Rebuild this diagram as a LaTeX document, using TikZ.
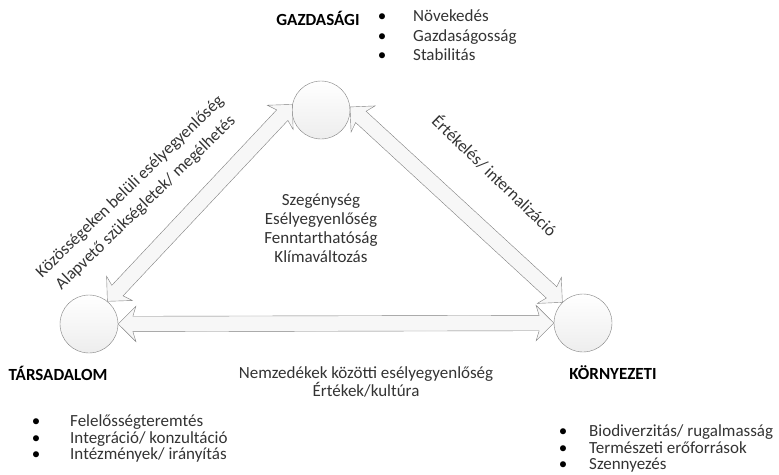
\documentclass[tikz,border=0pt]{standalone}
\usepackage{fontspec}
\setmainfont{Carlito}
\usetikzlibrary{calc,shapes.arrows}
\tikzset{
  hub/.style={circle, draw=black!50, minimum size=58pt, inner sep=0pt,
    top color=white, bottom color=black!7},
  link/.style={double arrow, draw=black!50, fill=black!3, inner xsep=0pt,
    inner ysep=7.5pt, double arrow head extend=10pt, double arrow head indent=3pt},
  head/.style={font=\fontsize{17}{19}\selectfont\bfseries, inner sep=0pt},
  item/.style={anchor=west, inner sep=0pt, text height=11pt, text depth=3.5pt, text=black!80},
  dot/.style={inner sep=0pt, text height=11pt, text depth=3.5pt},
  lbl/.style={align=center, inner sep=0pt, text=black!80}
}
\newcommand{\linkarrow}[3]{%
  \path let \p1=($(#2)-(#1)$), \n1={veclen(\x1,\y1)}, \n2={atan2(\y1,\x1)} in
    node[link, minimum height=\n1, rotate=\n2] (#3) at ($(#1)!0.5!(#2)$) {};
}

\begin{document}
\begin{tikzpicture}[x=1pt, y=-1pt, font=\fontsize{17}{19}\selectfont]
  \useasboundingbox (0,0) rectangle (779,474);

  % pillars
  \node[hub] (gaz) at (321,110) {};
  \node[hub] (tar) at (89,324) {};
  \node[hub] (kor) at (583,323) {};

  % links between pillars
  \linkarrow{tar.51}{gaz.169}{tg}
  \linkarrow{gaz.6}{kor.135}{gk}
  \linkarrow{tar.0}{kor.180}{tk}

  % headings
  \node[head] (gazh) at (318,18) {GAZDASÁGI};
  \node[head] (tarh) at (58,373) {TÁRSADALOM};
  \node[head] (korh) at (613,373) {KÖRNYEZETI};

  % bullet lists
  \foreach \txt [count=\i] in {Növekedés, Gazdaságosság, Stabilitás}{
    \node[dot] (gd\i) at (382,{18+19.5*(\i-1)}) {•};
    \node[item] (gi\i) at (413,{18+19.5*(\i-1)}) {\txt};
  }
  \foreach \txt [count=\i] in {Felelősségteremtés, Integráció/ konzultáció, Intézmények/ irányítás}{
    \node[dot] (td\i) at (36,{423+16.5*(\i-1)}) {•};
    \node[item] (ti\i) at (70,{423+16.5*(\i-1)}) {\txt};
  }
  \foreach \txt [count=\i] in {Biodiverzitás/ rugalmasság, Természeti erőforrások, Szennyezés}{
    \node[dot] (kd\i) at (563,{433+16.5*(\i-1)}) {•};
    \node[item] (ki\i) at (589,{433+16.5*(\i-1)}) {\txt};
  }

  % labels
  \node[lbl] (core) at (321,228) {Szegénység\\Esélyegyenlőség\\Fenntarthatóság\\Klímaváltozás};
  \node[lbl, rotate=44, font=\fontsize{17}{22.5}\selectfont] (tgl) at (138,195)
    {Közösségeken belüli esélyegyenlőség\\Alapvető szükségletek/ megélhetés};
  \node[lbl, rotate=-44] (gkl) at (495,175) {Értékelés/ internalizáció};
  \node[lbl, font=\fontsize{17}{17}\selectfont] (tkl) at (366,382)
    {Nemzedékek közötti esélyegyenlőség\\Értékek/kultúra};
\end{tikzpicture}
\end{document}
